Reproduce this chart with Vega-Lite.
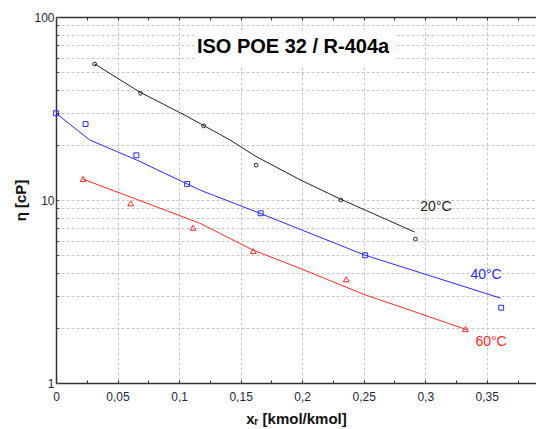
{
  "$schema": "https://vega.github.io/schema/vega-lite/v6.json",
  "width": 480,
  "height": 366,
  "autosize": {"type": "none"},
  "padding": {"left": 56, "top": 17, "right": 0, "bottom": 46},
  "background": "white",
  "config": {"view": {"stroke": null}, "font": "Liberation Sans"},
  "datasets": {
    "pts": [
      {"x": 0.0314, "y": 55.4, "T": "20°C", "kind": "pt"},
      {"x": 0.0686, "y": 38.3, "T": "20°C", "kind": "pt"},
      {"x": 0.120, "y": 25.4, "T": "20°C", "kind": "pt"},
      {"x": 0.1626, "y": 15.5, "T": "20°C", "kind": "pt"},
      {"x": 0.2314, "y": 10.0, "T": "20°C", "kind": "pt"},
      {"x": 0.292, "y": 6.12, "T": "20°C", "kind": "pt"},
      {"x": 0.0, "y": 29.8, "T": "40°C", "kind": "pt"},
      {"x": 0.024, "y": 26.0, "T": "40°C", "kind": "pt"},
      {"x": 0.0653, "y": 17.55, "T": "40°C", "kind": "pt"},
      {"x": 0.1065, "y": 12.23, "T": "40°C", "kind": "pt"},
      {"x": 0.1663, "y": 8.46, "T": "40°C", "kind": "pt"},
      {"x": 0.2512, "y": 4.99, "T": "40°C", "kind": "pt"},
      {"x": 0.3617, "y": 2.58, "T": "40°C", "kind": "pt"},
      {"x": 0.022, "y": 13.03, "T": "60°C", "kind": "pt"},
      {"x": 0.0607, "y": 9.59, "T": "60°C", "kind": "pt"},
      {"x": 0.1114, "y": 7.06, "T": "60°C", "kind": "pt"},
      {"x": 0.1603, "y": 5.26, "T": "60°C", "kind": "pt"},
      {"x": 0.2358, "y": 3.69, "T": "60°C", "kind": "pt"},
      {"x": 0.3327, "y": 1.97, "T": "60°C", "kind": "pt"},
      {"x": 0.0314, "y": 55.4, "T": "20°C", "kind": "fit"},
      {"x": 0.068, "y": 38.9, "T": "20°C", "kind": "fit"},
      {"x": 0.1046, "y": 29.1, "T": "20°C", "kind": "fit"},
      {"x": 0.1413, "y": 21.3, "T": "20°C", "kind": "fit"},
      {"x": 0.1625, "y": 17.3, "T": "20°C", "kind": "fit"},
      {"x": 0.1983, "y": 12.9, "T": "20°C", "kind": "fit"},
      {"x": 0.2309, "y": 10.13, "T": "20°C", "kind": "fit"},
      {"x": 0.2912, "y": 6.69, "T": "20°C", "kind": "fit"},
      {"x": 0.0, "y": 29.8, "T": "40°C", "kind": "fit"},
      {"x": 0.0273, "y": 21.3, "T": "40°C", "kind": "fit"},
      {"x": 0.0656, "y": 16.54, "T": "40°C", "kind": "fit"},
      {"x": 0.1169, "y": 11.34, "T": "40°C", "kind": "fit"},
      {"x": 0.1657, "y": 8.46, "T": "40°C", "kind": "fit"},
      {"x": 0.2512, "y": 4.99, "T": "40°C", "kind": "fit"},
      {"x": 0.3612, "y": 2.91, "T": "40°C", "kind": "fit"},
      {"x": 0.0216, "y": 13.03, "T": "60°C", "kind": "fit"},
      {"x": 0.1169, "y": 7.46, "T": "60°C", "kind": "fit"},
      {"x": 0.160, "y": 5.33, "T": "60°C", "kind": "fit"},
      {"x": 0.1983, "y": 4.23, "T": "60°C", "kind": "fit"},
      {"x": 0.2496, "y": 3.06, "T": "60°C", "kind": "fit"},
      {"x": 0.3343, "y": 1.95, "T": "60°C", "kind": "fit"}
    ],
    "lbl": [
      {"x": 0.296, "y": 9.21, "T": "20°C"},
      {"x": 0.3367, "y": 3.89, "T": "40°C"},
      {"x": 0.3408, "y": 1.675, "T": "60°C"}
    ],
    "box": [
      {"x": 0.1128, "x2": 0.2757, "y": 84.9, "y2": 54.7, "title": "ISO POE 32 / R-404a", "tx": 0.1926, "ty": 68.6}
    ]
  },
  "layer": [
    {
      "data": {"name": "box"},
      "mark": {"type": "rect", "fill": "white", "stroke": null},
      "encoding": {
        "x": {
          "field": "x", "type": "quantitative",
          "scale": {"type": "linear", "domain": [0, 0.39], "nice": false, "zero": false},
          "axis": {
            "orient": "top", "title": null, "labels": false, "grid": false,
            "values": [0, 0.025, 0.05, 0.075, 0.1, 0.125, 0.15, 0.175, 0.2, 0.225, 0.25, 0.275, 0.3, 0.325, 0.35, 0.375],
            "tickSize": -3, "tickColor": "#333333", "tickWidth": 1,
            "domainColor": "#333333", "domainWidth": 1.5
          }
        },
        "x2": {"field": "x2"},
        "y": {"field": "y", "type": "quantitative", "scale": {"type": "log", "domain": [1, 100], "nice": false}},
        "y2": {"field": "y2"}
      }
    },
    {
      "data": {"name": "pts"},
      "transform": [{"filter": "datum.kind == 'fit'"}],
      "mark": {"type": "line", "strokeWidth": 1},
      "encoding": {
        "x": {
          "field": "x", "type": "quantitative",
          "axis": {
            "orient": "bottom",
            "title": "xᵣ  [kmol/kmol]",
            "titleFont": "Liberation Sans", "titleFontSize": 15, "titleFontWeight": "bold", "titleColor": "#111111",
            "titlePadding": 9,
            "values": [0, 0.025, 0.05, 0.075, 0.1, 0.125, 0.15, 0.175, 0.2, 0.225, 0.25, 0.275, 0.3, 0.325, 0.35, 0.375],
            "labelExpr": "abs(datum.value*20 - round(datum.value*20)) < 0.001 ? replace(format(datum.value, '~g'), '.', ',') : ''",
            "labelFont": "Liberation Sans", "labelFontSize": 12, "labelColor": "#1e2840",
            "labelPadding": 11, "labelFlush": false,
            "grid": true, "gridColor": "#c8c8c8", "gridDash": [3, 2], "gridWidth": 1,
            "gridOpacity": {"condition": {"test": "abs(datum.value*20 - round(datum.value*20)) < 0.001 && datum.value > 0", "value": 1}, "value": 0},
            "tickSize": -3, "tickColor": "#333333", "tickWidth": 1,
            "domainColor": "#333333", "domainWidth": 1.5
          }
        },
        "y": {
          "field": "y", "type": "quantitative",
          "axis": {
            "title": "η  [cP]",
            "titleFont": "Liberation Sans", "titleFontSize": 15, "titleFontWeight": "bold", "titleColor": "#111111",
            "titlePadding": 5,
            "values": [1, 2, 3, 4, 5, 6, 7, 8, 9, 10, 20, 30, 40, 50, 60, 70, 80, 90, 100],
            "format": "d",
            "labelExpr": "datum.value == 1 || datum.value == 10 || datum.value == 100 ? datum.label : ''",
            "labelFont": "Liberation Sans", "labelFontSize": 12, "labelColor": "#1e2840",
            "labelPadding": 5, "labelFlush": false,
            "grid": true, "gridColor": "#c8c8c8", "gridDash": [3, 2], "gridWidth": 1,
            "tickSize": -3, "tickColor": "#555555", "tickWidth": 1,
            "domainColor": "#333333", "domainWidth": 1.5
          }
        },
        "color": {
          "field": "T", "type": "nominal",
          "scale": {"domain": ["20°C", "40°C", "60°C"], "range": ["#222222", "#2a2aff", "#ff2a2a"]},
          "legend": null
        },
        "detail": {"field": "T"},
        "order": {"field": "x", "type": "quantitative"}
      }
    },
    {
      "data": {"name": "pts"},
      "transform": [{"filter": "datum.kind == 'pt'"}],
      "mark": {"type": "point", "filled": false, "strokeWidth": 1, "opacity": 1},
      "encoding": {
        "x": {"field": "x", "type": "quantitative", "axis": null},
        "y": {"field": "y", "type": "quantitative"},
        "color": {"field": "T", "type": "nominal", "legend": null},
        "shape": {
          "field": "T", "type": "nominal",
          "scale": {"domain": ["20°C", "40°C", "60°C"], "range": ["circle", "square", "triangle-up"]},
          "legend": null
        },
        "size": {
          "field": "T", "type": "nominal",
          "scale": {"domain": ["20°C", "40°C", "60°C"], "range": [14, 34, 30]},
          "legend": null
        }
      }
    },
    {
      "data": {"name": "lbl"},
      "mark": {"type": "text", "align": "left", "baseline": "middle", "font": "Liberation Sans", "fontSize": 14},
      "encoding": {
        "x": {"field": "x", "type": "quantitative", "axis": null},
        "y": {"field": "y", "type": "quantitative"},
        "text": {"field": "T"},
        "color": {"field": "T", "type": "nominal", "legend": null}
      }
    },
    {
      "data": {"name": "box"},
      "mark": {"type": "text", "align": "center", "baseline": "middle", "font": "Liberation Sans", "fontSize": 20, "fontWeight": "bold", "color": "#000000"},
      "encoding": {
        "x": {"field": "tx", "type": "quantitative", "axis": null},
        "y": {"field": "ty", "type": "quantitative"},
        "text": {"field": "title"}
      }
    }
  ],
  "resolve": {"axis": {"x": "independent"}}
}
